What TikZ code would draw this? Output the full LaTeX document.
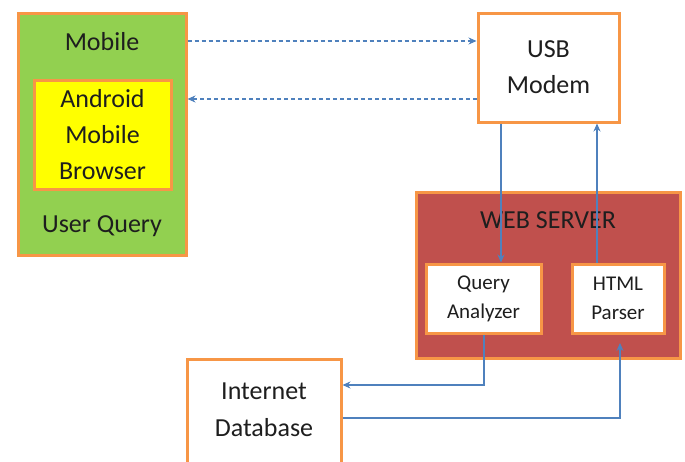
\documentclass[tikz,border=0pt]{standalone}
\usepackage{fontspec}
\setmainfont{Carlito}
\usetikzlibrary{arrows.meta}
\definecolor{obord}{RGB}{247,150,70}
\definecolor{mgreen}{RGB}{146,208,80}
\definecolor{myellow}{RGB}{255,255,0}
\definecolor{wred}{RGB}{192,80,77}
\definecolor{lblue}{RGB}{79,129,189}
\definecolor{txt}{RGB}{30,30,30}
\tikzset{
  boxs/.style={draw=obord, line width=3pt, inner sep=0pt, align=center, text=txt,
    font=\fontsize{26}{36}\selectfont},
  smallbox/.style={boxs, fill=white, font=\fontsize{21}{29}\selectfont},
  lbl/.style={text=txt, font=\fontsize{26}{30}\selectfont, inner sep=0pt},
  conn/.style={draw=lblue, line width=1.3pt, -{Stealth[length=8pt,width=7pt]}},
  dconn/.style={draw=lblue, line width=1.1pt, dash pattern=on 4pt off 3pt, -{Stealth[length=8pt,width=7pt]}}
}
\begin{document}
\begin{tikzpicture}[x=1pt,y=-1pt]
\clip (0,0) rectangle (685,461);
\fill[white] (0,0) rectangle (685,461);
% Mobile
\node[boxs, fill=mgreen, minimum width=168pt, minimum height=242pt] (mobile) at (102,134) {};
\node[boxs, fill=myellow, minimum width=137pt, minimum height=109pt] (browser) at (102.5,134.5) {Android\\Mobile\\Browser};
\node[lbl] (mobt) at (102,42) {Mobile};
\node[lbl] (uq) at (102,226) {User Query};
% USB modem
\node[boxs, fill=white, minimum width=141pt, minimum height=109pt] (usb) at (548.5,67.5) {USB\\Modem};
% Web server
\node[boxs, fill=wred, minimum width=264pt, minimum height=166pt] (web) at (548,275) {};
\node[lbl] (webt) at (548,220) {WEB SERVER};
\node[smallbox, minimum width=115pt, minimum height=69pt] (qa) at (483.5,298.5) {Query\\Analyzer};
\node[smallbox, minimum width=92pt, minimum height=69pt] (html) at (618,298.5) {HTML\\Parser};
% Database
\node[boxs, fill=white, minimum width=154pt, minimum height=116pt] (db) at (264,417) {};
\node[lbl, align=center, font=\fontsize{26}{37}\selectfont] (dbt) at (264,410) {Internet\\Database};
% connectors
\draw[dconn] (mobile.east |- 0,41) -- (usb.west |- 0,41);
\draw[dconn] (usb.west |- 0,99) -- (mobile.east |- 0,99);
\draw[conn] (usb.south -| 501,0) -- (qa.north -| 501,0);
\draw[conn] (html.north -| 597,0) -- (usb.south -| 597,0);
\draw[conn] (qa.south -| 484,0) |- (db.east |- 0,385);
\coordinate (hp) at (620,343);
\draw[conn] (db.east |- 0,418) -| (hp);
\end{tikzpicture}
\end{document}
